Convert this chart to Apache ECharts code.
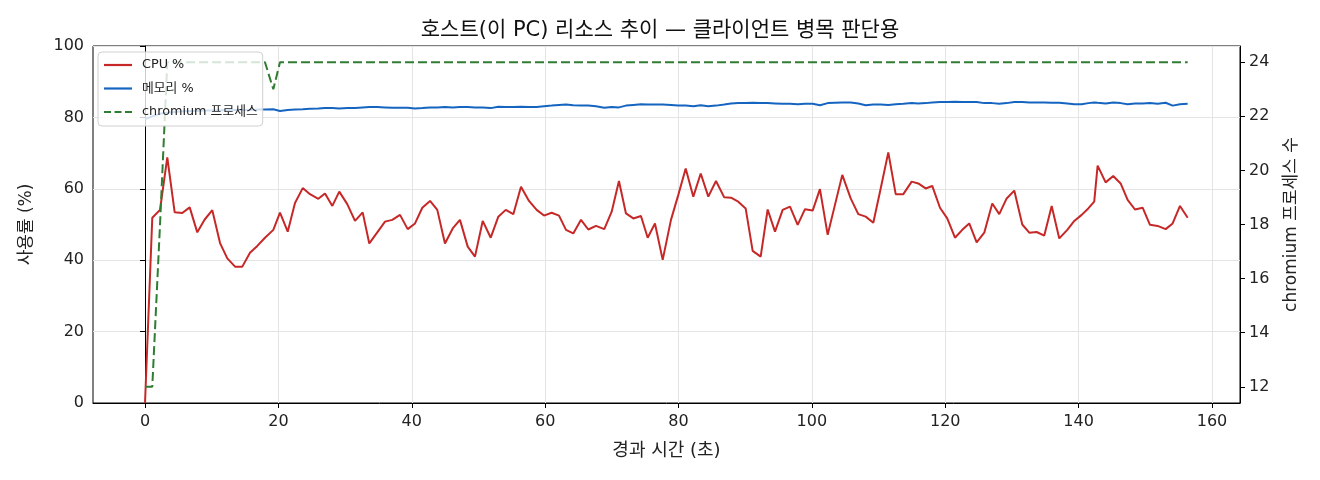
<!DOCTYPE html>
<html>
<head>
<meta charset="utf-8">
<script src="https://cdn.jsdelivr.net/npm/echarts@6/dist/echarts.min.js"></script>
<style>
html,body{margin:0;padding:0;background:#fff;}
#c{width:1320px;height:480px;}
</style>
</head>
<body>
<div id="c"></div>
<script>
const times = [
0,1.09,2.25,3.34,4.45,5.59,6.70,7.84,8.95,10.09,
11.25,12.34,13.50,14.59,15.74,16.84,17.99,19.24,20.24,21.40,
22.49,23.65,24.74,25.99,26.99,28.09,29.13,30.33,31.49,32.64,
33.63,34.83,35.99,37.08,38.24,39.39,40.49,41.58,42.74,43.83,
44.98,46.14,47.23,48.39,49.48,50.64,51.84,52.98,54.09,55.23,
56.38,57.58,58.73,59.83,60.98,62.08,63.13,64.22,65.38,66.47,
67.63,68.87,69.98,71.07,72.12,73.22,74.37,75.38,76.47,77.63,
78.87,79.97,81.08,82.22,83.33,84.47,85.62,86.86,87.87,88.96,
90.07,91.12,92.32,93.37,94.47,95.62,96.72,97.87,98.97,100.12,
101.21,102.37,103.46,104.56,105.82,106.96,108.07,109.21,110.32,111.46,
112.57,113.71,114.97,115.95,117.06,118.05,119.21,120.30,121.46,122.55,
123.60,124.71,125.85,127.05,128.10,129.21,130.35,131.55,132.60,133.71,
134.85,135.96,137.10,138.30,139.35,140.46,141.45,142.34,142.85,144.05,
145.19,146.30,147.35,148.45,149.60,150.70,151.85,153.05,154.10,155.20,156.35
];
const cpu = [
0,51.9,54.1,68.8,53.4,53.2,54.8,47.8,51.4,54.0,
44.8,40.5,38.2,38.2,42.1,44.0,46.3,48.5,53.3,48.0,
56.0,60.2,58.5,57.2,58.7,55.2,59.2,55.7,51.0,53.4,
44.7,47.8,50.8,51.3,52.7,48.7,50.3,54.7,56.6,54.1,
44.7,48.9,51.3,43.8,41.0,51.0,46.3,52.2,54.1,52.9,
60.6,56.6,54.1,52.5,53.3,52.5,48.5,47.5,51.3,48.6,
49.6,48.7,53.6,62.2,53.1,51.7,52.4,46.3,50.3,40.1,
51.3,58.3,65.7,57.8,64.3,57.8,62.2,57.6,57.5,56.4,
54.5,42.6,41.0,54.2,48.0,54.1,55.0,49.9,54.3,53.9,
59.9,47.1,55.5,63.9,57.3,52.9,52.2,50.5,60.1,70.2,
58.5,58.5,62.0,61.5,60.1,60.8,54.7,51.7,46.3,48.5,
50.3,45.0,47.7,55.9,52.9,57.3,59.5,50.0,47.7,47.9,
46.9,55.2,46.1,48.5,51.0,52.7,54.5,56.4,66.5,61.8,
63.6,61.5,56.9,54.2,54.7,49.9,49.6,48.7,50.3,55.2,51.9
];
const mem = [
79.5,80.3,81.0,81.3,81.5,81.7,81.8,81.8,81.9,81.9,
82.0,82.0,82.1,82.1,82.1,82.2,82.2,82.3,81.8,82.1,
82.2,82.3,82.4,82.5,82.6,82.6,82.5,82.6,82.6,82.8,
82.9,82.9,82.8,82.7,82.7,82.7,82.5,82.6,82.8,82.8,
82.9,82.8,82.9,82.9,82.8,82.8,82.6,83.0,82.9,82.9,
83.0,82.9,82.9,83.1,83.3,83.5,83.6,83.4,83.3,83.3,
83.1,82.7,82.9,82.8,83.3,83.5,83.7,83.6,83.6,83.6,
83.5,83.3,83.3,83.1,83.4,83.1,83.3,83.6,83.9,84.0,
84.0,84.1,84.0,84.0,83.9,83.8,83.8,83.7,83.8,83.8,
83.4,84.0,84.1,84.2,84.2,83.9,83.4,83.6,83.6,83.5,
83.7,83.8,84.0,83.9,84.0,84.2,84.3,84.3,84.4,84.3,
84.3,84.3,84.0,84.0,83.8,84.0,84.3,84.3,84.2,84.2,
84.2,84.1,84.1,83.9,83.7,83.7,84.0,84.2,84.1,83.9,
84.2,84.0,83.7,83.9,83.9,84.0,83.8,84.1,83.3,83.7,83.8
];
const chromium = [
12,12,18,24,24,24,24,24,24,24,
24,24,24,24,24,24,24,23,24,24,
24,24,24,24,24,24,24,24,24,24,
24,24,24,24,24,24,24,24,24,24,
24,24,24,24,24,24,24,24,24,24,
24,24,24,24,24,24,24,24,24,24,
24,24,24,24,24,24,24,24,24,24,
24,24,24,24,24,24,24,24,24,24,
24,24,24,24,24,24,24,24,24,24,
24,24,24,24,24,24,24,24,24,24,
24,24,24,24,24,24,24,24,24,24,
24,24,24,24,24,24,24,24,24,24,
24,24,24,24,24,24,24,24,24,24,
24,24,24,24,24,24,24,24,24,24,24
];
const xTicks = [0,20,40,60,80,100,120,140,160];
const yRightTicks = [12,14,16,18,20,22,24];

const FONT = '"DejaVu Sans", "Noto Sans CJK KR", sans-serif';
const pairs = (ys) => times.map((t, i) => [t, ys[i]]);

const solidIcon = 'path://M0,0H28V2.2H0Z';
const dashIcon = 'path://M0,0H7V2.2H0Z M10.5,0H17.5V2.2H10.5Z M21,0H28V2.2H21Z';

const chart = echarts.init(document.getElementById('c'), null, {renderer: 'canvas'});
chart.setOption({
  animation: false,
  backgroundColor: '#fff',
  textStyle: {fontFamily: FONT},
  title: {
    text: '호스트(이 PC) 리소스 추이 — 클라이언트 병목 판단용',
    left: 'center', top: 15,
    textStyle: {fontFamily: FONT, fontSize: 21, fontWeight: 'normal', color: '#111'}
  },
  legend: {
    orient: 'vertical', left: 98, top: 52,
    itemWidth: 28, itemHeight: 14, itemGap: 9.5,
    padding: [6, 5, 7, 6],
    backgroundColor: 'rgba(255,255,255,0.8)',
    borderColor: '#d0d0d0', borderWidth: 1, borderRadius: 4,
    textStyle: {fontFamily: FONT, fontSize: 12.8, color: '#222', padding: [0, 0, 0, 5], lineHeight: 14},
    data: [
      {name: 'CPU %', icon: solidIcon},
      {name: '메모리 %', icon: solidIcon},
      {name: 'chromium 프로세스', icon: dashIcon}
    ]
  },
  grid: {left: 93, right: 80, top: 46, bottom: 77, show: true, borderColor: '#000', borderWidth: 1, backgroundColor: 'transparent'},
  xAxis: {
    type: 'value', min: -7.8, max: 164.2,
    name: '경과 시간 (초)', nameLocation: 'middle', nameGap: 39,
    nameTextStyle: {fontFamily: FONT, fontSize: 18, color: '#222'},
    axisLine: {show: true, onZero: false, lineStyle: {color: '#000'}},
    axisTick: {show: true, length: 5, lineStyle: {color: '#000'}, customValues: xTicks},
    axisLabel: {fontFamily: FONT, fontSize: 16, color: '#222', margin: 11, customValues: xTicks},
    splitLine: {show: true, lineStyle: {color: '#e4e4e4', width: 1}}
  },
  yAxis: [{
    type: 'value', min: 0, max: 100, interval: 20,
    name: '사용률 (%)', nameLocation: 'middle', nameGap: 58, nameRotate: 90,
    nameTextStyle: {fontFamily: FONT, fontSize: 17, color: '#222'},
    axisLine: {show: true, lineStyle: {color: '#000'}},
    axisTick: {show: true, length: 5, lineStyle: {color: '#000'}},
    axisLabel: {fontFamily: FONT, fontSize: 16, color: '#222', margin: 9},
    splitLine: {show: true, lineStyle: {color: '#e4e4e4', width: 1}}
  }, {
    type: 'value', min: 11.4, max: 24.6, position: 'right',
    name: 'chromium 프로세스 수', nameLocation: 'middle', nameGap: 43, nameRotate: 90,
    nameTextStyle: {fontFamily: FONT, fontSize: 17, color: '#222'},
    axisLine: {show: true, lineStyle: {color: '#000'}},
    axisTick: {show: true, length: 5, lineStyle: {color: '#000'}, customValues: yRightTicks},
    axisLabel: {fontFamily: FONT, fontSize: 16, color: '#222', margin: 9, customValues: yRightTicks},
    splitLine: {show: false}
  }],
  series: [{
    name: 'CPU %', type: 'line', data: pairs(cpu), yAxisIndex: 0,
    showSymbol: false, symbol: 'none',
    lineStyle: {color: '#c62828', width: 2}, itemStyle: {color: '#c62828'}
  }, {
    name: '메모리 %', type: 'line', data: pairs(mem), yAxisIndex: 0,
    showSymbol: false, symbol: 'none',
    lineStyle: {color: '#1565c0', width: 2}, itemStyle: {color: '#1565c0'}
  }, {
    name: 'chromium 프로세스', type: 'line', data: pairs(chromium), yAxisIndex: 1,
    showSymbol: false, symbol: 'none',
    lineStyle: {color: '#2e7d32', width: 2, type: [9, 4]}, itemStyle: {color: '#2e7d32'}
  }]
});
</script>
</body>
</html>
